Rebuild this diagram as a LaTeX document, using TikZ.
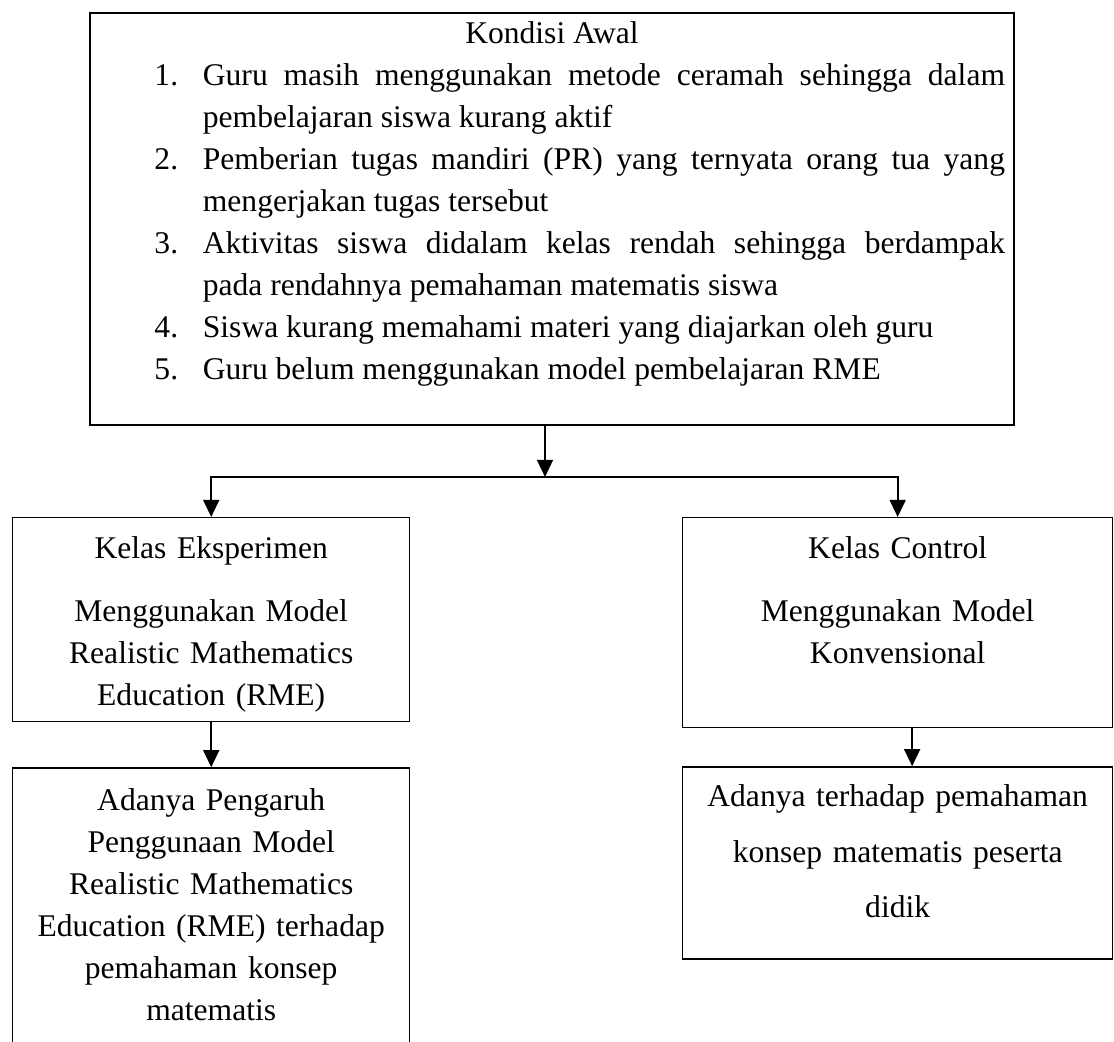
\documentclass[tikz,border=0pt]{standalone}
\usepackage{fontspec}
\setmainfont{Liberation Serif}
\usepackage{enumitem}
\usetikzlibrary{arrows.meta, positioning}

\begin{document}
\begin{tikzpicture}[x=0.38pt, y=-0.38pt,
        every node/.style={font=\fontsize{12pt}{16pt}\selectfont},
        kondisi/.style={rectangle, draw, line width=0.76pt, inner sep=0pt, text width=351.1pt, align=justify, anchor=north west},
        kelas/.style={rectangle, draw, line width=0.5pt, inner sep=0pt, align=center, anchor=north west},
        hasil/.style={rectangle, draw, line width=0.5pt, inner sep=0pt, align=center},
        line/.style={draw, line width=0.87pt, -{Triangle[length=6.5pt, width=6pt]}}]

        \useasboundingbox (0,0) rectangle (1114,1041);

        \node [kondisi, text height=11.4pt, text depth=145.2pt] (awal) at (89,12) {%
            \sloppy\hyphenpenalty=10000
            {\centering Kondisi Awal\par}
            \begin{enumerate}[leftmargin=42.9pt, rightmargin=3.4pt, labelindent=24.5pt, labelwidth=9pt, labelsep=*, align=left, topsep=0pt, partopsep=0pt, itemsep=0pt, parsep=0pt]
                \item Guru masih menggunakan metode ceramah sehingga dalam\linebreak pembelajaran siswa kurang aktif
                \item Pemberian tugas mandiri (PR) yang ternyata orang tua yang\linebreak mengerjakan tugas tersebut
                \item Aktivitas siswa didalam kelas rendah sehingga berdampak\linebreak pada rendahnya pemahaman matematis siswa
                \item Siswa kurang memahami materi yang diajarkan oleh guru
                \item Guru belum menggunakan model pembelajaran RME
            \end{enumerate}};

        \node [kelas, text width=150.9pt, text height=15.6pt, text depth=61.9pt] (eks) at (12,517) {Kelas Eksperimen\\[7.9pt]Menggunakan Model\\Realistic Mathematics\\Education (RME)};
        \node [kelas, text width=163.4pt, text height=15.6pt, text depth=64.2pt] (kontrol) at (682,517) {Kelas Control\\[7.9pt]Menggunakan Model\\Konvensional};

        \node [hasil, text width=150.9pt, text height=16pt, text depth=103.4pt, below=17.1pt of eks] (hasil1) {Adanya Pengaruh\\Penggunaan Model\\Realistic Mathematics\\Education (RME) terhadap\\pemahaman konsep\\matematis};
        \node [hasil, text width=163.4pt, text height=15.2pt, text depth=57.8pt, font=\fontsize{12pt}{21.1pt}\selectfont, below=14.4pt of kontrol] (hasil2) {Adanya terhadap pemahaman\\konsep matematis peserta\\didik};

        \coordinate (cabang) at (545,477);
        \path [line] (cabang |- awal.south) -- (cabang);
        \path [line] (cabang) -| (eks.north);
        \path [line] (cabang) -| (kontrol.north);
        \path [line] (eks) -- (hasil1);
        \path [line] ([xshift=5.5pt]kontrol.south) -- ([xshift=5.5pt]hasil2.north);
\end{tikzpicture}
\end{document}
